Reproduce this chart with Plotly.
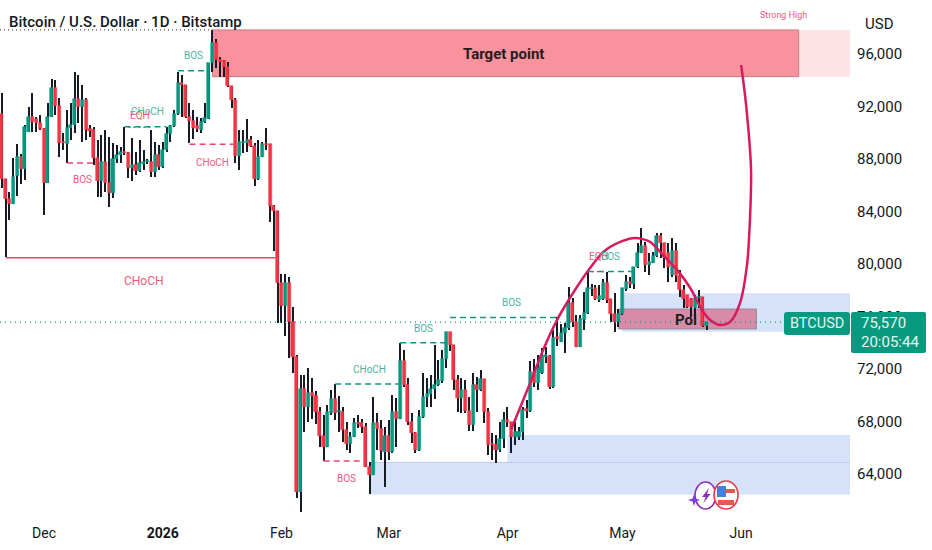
import pandas as pd
import plotly.graph_objects as go

# daily candles
opens = [91400, 86450, 84950, 84570, 86700, 88180, 87260, 90080, 91230, 91020,
         90720, 90310, 86200, 91170, 93380, 92040, 89320, 89140, 90340, 90590,
         92570, 91990, 92500, 90260, 90210, 88050, 86320, 87750, 86150, 85380,
         88000, 88300, 88530, 88480, 87290, 87540, 87110, 87620, 87750, 87750,
         87030, 88300, 87420, 88690, 89880, 90510, 91430, 93820, 93640, 91230,
         90920, 90510, 90210, 90820, 91020, 95290, 96860, 95540, 95470, 94980,
         93560, 92500, 88250, 89190, 89240, 89450, 89020, 86450, 88180, 89120,
         89120, 84440, 84060, 78550, 76800, 78550, 75610, 72940, 62650, 70450,
         69130, 70200, 69940, 68700, 66890, 66080, 68620, 69690, 68750, 68750,
         67350, 66280, 66840, 67910, 67860, 67550, 64560, 63920, 67860, 67400,
         65700, 66890, 65700, 68750, 68190, 72610, 70780, 67990, 67150, 65830,
         68320, 69840, 70090, 70450, 70780, 71110, 72740, 74790, 73830, 71160,
         69820, 70400, 68800, 67730, 70780, 70400, 71240, 68750, 66280, 66210,
         65830, 66640, 68110, 67990, 66790, 66790, 67170, 68930, 68800, 71790,
         70960, 71670, 72940, 72990, 70650, 74410, 74080, 74720, 75100, 77000,
         75600, 73700, 75730, 76240, 78100, 78150, 77260, 77310, 78580, 77310,
         76190, 75600, 76190, 78100, 78650, 78480, 79800, 80810, 81370, 79920,
         80100, 80610, 82130, 81570, 80810, 79160, 81010, 79080, 78020, 77640,
         77330, 76620, 77410, 77460, 75280]
closes = [86450, 84950, 84570, 86650, 88180, 87260, 90410, 91230, 90840, 90720,
          90310, 86200, 91230, 93380, 92040, 89240, 89190, 90340, 90590, 92570,
          91990, 92500, 90210, 90160, 88050, 86320, 87750, 86150, 85380, 88000,
          88300, 88530, 88430, 87290, 87540, 87110, 87670, 87800, 87850, 87030,
          88300, 87420, 88690, 89880, 90510, 91430, 93820, 93640, 91170, 90920,
          90340, 90260, 90820, 91100, 95290, 96860, 95540, 95390, 95040, 93560,
          92500, 88250, 89270, 89320, 89450, 89020, 86450, 88180, 89120, 89070,
          84440, 84060, 78550, 76800, 78550, 75600, 72940, 62650, 70450, 69130,
          70200, 69940, 68700, 66890, 66080, 68700, 69690, 68670, 68800, 67350,
          66280, 66840, 67860, 67810, 67550, 64560, 63920, 67860, 67400, 65780,
          66890, 65700, 68750, 68190, 72610, 70780, 67990, 67150, 65830, 68320,
          69840, 70090, 70450, 70780, 71160, 72740, 74790, 73830, 71160, 69820,
          70400, 68800, 67730, 70780, 70400, 71240, 68750, 66210, 66210, 65830,
          66640, 68110, 67990, 66790, 67220, 67170, 68870, 68800, 71790, 70960,
          72050, 72990, 73060, 70650, 74340, 74260, 74720, 75100, 77000, 75600,
          73700, 75780, 76240, 78150, 78200, 77310, 77560, 78580, 77260, 76190,
          75600, 76190, 78150, 78650, 78480, 79800, 80860, 81370, 79920, 80180,
          80610, 82130, 81570, 80430, 79800, 81010, 79080, 78020, 77330, 76750,
          76700, 77380, 77460, 75280, 75570]
highs = [93000, 86450, 85510, 88050, 89140, 88380, 90590, 91940, 93000, 91170,
         91350, 90340, 92240, 94100, 94020, 92620, 89960, 91730, 92240, 94600,
         94400, 93640, 92620, 90590, 90460, 89450, 89830, 90210, 89700, 89190,
         89070, 88940, 90460, 88560, 89570, 88560, 89450, 88690, 88000, 90210,
         89320, 89070, 89320, 90460, 90590, 91730, 94650, 94400, 93640, 92240,
         91730, 91230, 91100, 92290, 95290, 97830, 97120, 95750, 95540, 95420,
         93560, 92620, 90210, 90210, 91050, 89750, 89190, 89450, 89320, 90340,
         89120, 84490, 84060, 79240, 79240, 79030, 76750, 73070, 71540, 71540,
         72050, 71290, 70350, 69080, 68500, 69260, 70400, 70860, 69940, 69130,
         67990, 67220, 68240, 68500, 68160, 67860, 64940, 69890, 68670, 68110,
         67600, 68110, 70020, 69760, 74010, 73450, 71290, 68620, 67220, 68870,
         71670, 71290, 71540, 73830, 72690, 73450, 74790, 74790, 73830, 71540,
         71290, 71160, 69890, 71670, 71410, 71920, 71240, 69000, 67150, 66970,
         67990, 68750, 69130, 67990, 67990, 67600, 69130, 69640, 72630, 72740,
         73070, 73570, 73700, 73060, 74970, 75990, 75430, 75480, 78270, 77380,
         76110, 76110, 77890, 79410, 78500, 78400, 78400, 78830, 79410, 77310,
         77760, 76540, 78150, 79160, 79000, 79800, 81570, 82720, 81700, 80810,
         80940, 82390, 82340, 81620, 81570, 81960, 81570, 79540, 78400, 77640,
         77380, 77640, 78020, 77510, 75600]
lows = [85760, 80560, 83350, 84570, 85180, 86070, 86400, 90080, 90080, 90080,
        90210, 83730, 86200, 91170, 91350, 88130, 88690, 87670, 89450, 89960,
        90720, 89320, 89450, 89700, 87540, 85130, 85130, 85510, 84370, 85000,
        87670, 87670, 88300, 86530, 86320, 86780, 87000, 87160, 87600, 86650,
        86650, 87160, 87290, 88560, 89320, 90460, 91350, 91230, 91100, 89190,
        89500, 90080, 89960, 90720, 91020, 94650, 94910, 94220, 94270, 93510,
        91860, 87670, 87160, 88430, 88560, 88940, 85940, 86400, 88180, 88690,
        83220, 81010, 75530, 75530, 74510, 72840, 71670, 62170, 61100, 67220,
        67990, 68160, 67810, 66080, 64990, 66080, 68500, 68110, 67220, 66460,
        65830, 65570, 66790, 67480, 67100, 64500, 62470, 63920, 65830, 65060,
        62980, 65060, 65620, 66080, 68190, 70650, 67730, 66340, 65570, 65780,
        68240, 69130, 69130, 69690, 70700, 70910, 72050, 73370, 70400, 68750,
        68620, 68620, 67300, 67300, 68750, 70350, 67860, 65450, 65060, 64860,
        65700, 65950, 67600, 65620, 66210, 66590, 66590, 68240, 68750, 70600,
        70400, 71620, 72430, 70450, 70520, 73750, 74080, 73240, 74970, 75220,
        73700, 73700, 74970, 76190, 77600, 77260, 77130, 77260, 77000, 75600,
        74840, 75220, 76110, 77970, 78150, 78070, 79670, 80810, 79410, 79160,
        80050, 80560, 80430, 79670, 78650, 79030, 78650, 77510, 76620, 76620,
        75990, 75860, 76620, 75170, 75000]

dates = pd.date_range("2025-11-20", periods=len(opens), freq="D")

x_start = "2025-11-19 12:00"
x_end = "2026-06-29 10:00"
y_low = 60880
y_high = 100110

price_ticks = [64000, 68000, 72000, 76000, 80000, 84000, 88000, 92000, 96000]
month_ticks = ["2025-12-01", "2026-01-01", "2026-02-01", "2026-03-01", "2026-04-01", "2026-05-01", "2026-06-01"]
month_names = ["Dec", "<b>2026</b>", "Feb", "Mar", "Apr", "May", "Jun"]

last_price = 75570
swing_high = 97830

UP = "#089981"
DOWN = "#f23645"
WICK = "#171b26"
UP_TEXT = "#4ab59f"
DOWN_TEXT = "#ee5a7c"

# structure lines: start, end, price
green_dash = [("2026-01-05", "2026-01-13", 94730), ("2025-12-22", "2026-01-02", 90460),
              ("2026-02-15", "2026-03-04", 70860), ("2026-03-04", "2026-03-16", 74000),
              ("2026-03-17", "2026-04-14", 75920), ("2026-04-22", "2026-05-04", 79420)]
red_dash = [("2025-12-07", "2025-12-14", 87690), ("2026-01-08", "2026-01-20", 89120),
            ("2026-02-12", "2026-02-23", 64990)]
red_dot = [("2025-12-23", "2025-12-29", 90400), ("2026-04-23", "2026-04-27", 79420)]
red_solid = [("2025-11-21", "2026-01-31", 80480)]

# small labels: text, date, price, colour, size
labels = [("BOS", "2026-01-09", 95850, UP_TEXT, 10), ("CHoCH", "2025-12-28", 91580, UP_TEXT, 10),
          ("EQH", "2025-12-26", 91350, DOWN_TEXT, 10), ("BOS", "2025-12-11", 86400, DOWN_TEXT, 10),
          ("CHoCH", "2026-01-14", 87770, DOWN_TEXT, 10), ("CHoCH", "2025-12-27", 78670, DOWN_TEXT, 12),
          ("BOS", "2026-02-18", 63670, DOWN_TEXT, 10), ("CHoCH", "2026-02-24", 71980, UP_TEXT, 10),
          ("BOS", "2026-03-10", 75120, UP_TEXT, 10), ("BOS", "2026-04-02", 77050, UP_TEXT, 10),
          ("EQH", "2026-04-25", 80560, DOWN_TEXT, 10), ("BOS", "2026-04-28", 80560, UP_TEXT, 10),
          ("Strong High", "2026-06-12", 98970, DOWN_TEXT, 9)]

# the hand drawn projection
curve_dates = ["2026-04-02 00:00", "2026-04-06 22:00", "2026-04-10 07:00", "2026-04-13 22:00", "2026-04-17 07:00",
               "2026-04-21 19:00", "2026-04-26 00:00", "2026-04-30 10:00", "2026-05-04 07:00", "2026-05-08 05:00",
               "2026-05-11 14:00", "2026-05-15 07:00", "2026-05-18 17:00", "2026-05-21 19:00", "2026-05-23 22:00",
               "2026-05-26 12:00", "2026-05-29 02:00", "2026-05-31 17:00", "2026-06-02 14:00", "2026-06-03 07:00",
               "2026-06-03 14:00", "2026-06-02 07:00", "2026-06-01 00:00"]
curve_prices = [67430, 70930, 73450, 75730, 77410, 79390, 80910, 81680, 81980, 81680, 80690, 79550,
                78170, 76500, 75730, 75350, 75580, 77030, 80080, 83360, 87160, 92110, 95160]

PLOT_W = 850
PLOT_H = 515


def px(x):
    return x / PLOT_W


def py(y):
    return (PLOT_H - y) / PLOT_H


def rounded_rect(x0, y0, x1, y1, r, fill):
    # path in screen pixels, for the price tags
    path = (f"M {px(x0 + r)} {py(y0)} L {px(x1 - r)} {py(y0)} Q {px(x1)} {py(y0)} {px(x1)} {py(y0 + r)} "
            f"L {px(x1)} {py(y1 - r)} Q {px(x1)} {py(y1)} {px(x1 - r)} {py(y1)} "
            f"L {px(x0 + r)} {py(y1)} Q {px(x0)} {py(y1)} {px(x0)} {py(y1 - r)} "
            f"L {px(x0)} {py(y0 + r)} Q {px(x0)} {py(y0)} {px(x0 + r)} {py(y0)} Z")
    return dict(type="path", path=path, xref="paper", yref="paper", fillcolor=fill, line=dict(width=0), layer="above")


def polygon(points, fill):
    # small icon pieces, screen pixels
    path = "M " + " L ".join(f"{px(x)} {py(y)}" for x, y in points) + " Z"
    return dict(type="path", path=path, xref="paper", yref="paper", fillcolor=fill, line=dict(width=0), layer="above")


fig = go.Figure()

fig.add_trace(go.Bar(x=dates, y=[h - l for h, l in zip(highs, lows)], base=lows, width=86400000 * 0.32,
                     marker=dict(color=WICK, line=dict(width=0)), hoverinfo="skip", showlegend=False))

body_bottom = [min(o, c) for o, c in zip(opens, closes)]
body_size = [abs(o - c) for o, c in zip(opens, closes)]
body_color = [UP if c >= o else DOWN for o, c in zip(opens, closes)]
fig.add_trace(go.Bar(x=dates, y=body_size, base=body_bottom, width=86400000 * 0.8,
                     marker=dict(color=body_color, line=dict(color=body_color, width=0.6)),
                     hoverinfo="skip", showlegend=False))

fig.add_trace(go.Scatter(x=curve_dates, y=curve_prices, mode="lines",
                         line=dict(color="#d81b60", width=2.5, shape="spline", smoothing=0.8),
                         hoverinfo="skip", showlegend=False))

shapes = []


def zone(x0, x1, p0, p1, fill, border=None):
    shapes.append(dict(type="rect", x0=x0, x1=x1, y0=p0, y1=p1, xref="x", yref="y", fillcolor=fill, layer="below",
                       line=dict(color=border, width=1) if border else dict(width=0)))


# supply / demand zones
zone("2026-06-16", x_end, 94270, 97830, "#fde3e5")
zone("2026-01-14", "2026-06-16", 94270, 97830, "#f8939d", "#c97a84")
zone("2026-05-01", x_end, 74840, 77770, "#d5e2fa")
zone("2026-02-24", x_end, 62440, 64890, "#d5e2fa")
zone("2026-04-01", x_end, 64890, 66970, "#d5e2fa")
zone("2026-04-30", "2026-06-05", 75050, 76570, "#d78ba7", "#9a8a9c")
shapes.append(dict(type="line", x0="2026-02-24", x1=x_end, y0=64890, y1=64890, xref="x", yref="y",
                   line=dict(color="#bccbe6", width=1), layer="below"))


def level_lines(rows, color, dash, width):
    for start, end, price in rows:
        shapes.append(dict(type="line", x0=start, x1=end, y0=price, y1=price, xref="x", yref="y",
                           line=dict(color=color, dash=dash, width=width), layer="above"))


level_lines(green_dash, UP, "6px,4px", 1.5)
level_lines(red_dash, "#e8476a", "6px,4px", 1.5)
level_lines(red_dot, "#e8476a", "2px,3px", 1.2)
level_lines(red_solid, "#e8476a", "solid", 1.4)
level_lines([(x_start, x_end, last_price)], UP, "1px,4px", 1.2)
level_lines([(x_start, "2026-01-14", swing_high)], "#555555", "1px,3px", 1.2)

# price tags on the right
shapes.append(rounded_rect(784, 312, 850, 335, 3, UP))
shapes.append(rounded_rect(851, 312, 926, 353, 2, UP))

# small logo bottom right
shapes.append(dict(type="circle", xref="paper", yref="paper", x0=px(695), x1=px(716), y0=py(509), y1=py(482),
                   line=dict(color="#8e2fb8", width=1.6), fillcolor="white", layer="above"))
shapes.append(polygon([(694, 494), (695.5, 498.5), (700, 500), (695.5, 501.5), (694, 506), (692.5, 501.5),
                       (688, 500), (692.5, 498.5)], "#7a3fe0"))
shapes.append(polygon([(709, 488), (702, 497), (705.5, 497), (703.5, 503), (710.5, 494), (707, 494)], "#8e2fb8"))
shapes.append(dict(type="circle", xref="paper", yref="paper", x0=px(714), x1=px(738), y0=py(509), y1=py(481),
                   line=dict(color="#e5394a", width=1.6), fillcolor="white", layer="above"))
shapes.append(dict(type="rect", xref="paper", yref="paper", x0=px(717), x1=px(726), y0=py(497), y1=py(486),
                   line=dict(width=0), fillcolor="#4a7fd6", layer="above"))
shapes.append(dict(type="rect", xref="paper", yref="paper", x0=px(726), x1=px(735), y0=py(493), y1=py(489),
                   line=dict(width=0), fillcolor="#e5594f", layer="above"))
shapes.append(dict(type="rect", xref="paper", yref="paper", x0=px(718), x1=px(734), y0=py(505), y1=py(500),
                   line=dict(width=0), fillcolor="#e5594f", layer="above"))

annotations = []
for text, date, price, color, size in labels:
    annotations.append(dict(x=date, y=price, xref="x", yref="y", text=text, showarrow=False,
                            font=dict(family="Roboto", size=size, color=color)))

annotations.append(dict(x="2026-03-31", y=96000, xref="x", yref="y", text="<b>Target point</b>", showarrow=False,
                        font=dict(family="Roboto", size=15, color="#2a1a1e")))
annotations.append(dict(x="2026-05-17 12:00", y=75730, xref="x", yref="y", text="<b>Poi</b>", showarrow=False,
                        font=dict(family="Roboto", size=15, color="#1c1c28")))


def screen_text(x, y, text, size, color, anchor="left", weight=None):
    annotations.append(dict(x=px(x), y=py(y), xref="paper", yref="paper", text=text, showarrow=False,
                            xanchor=anchor, yanchor="middle",
                            font=dict(family="Roboto", size=size, color=color, weight=weight)))


screen_text(7, 22, "Bitcoin / U.S. Dollar · 1D · Bitstamp", 15, "#131722", weight=500)
screen_text(863, 24, "USD", 15, "#131722")
screen_text(817, 323, "BTCUSD", 14.5, "#e3f6f0", "center")
screen_text(859, 323, "75,570", 15, "#e3f6f0")
screen_text(859, 342, "20:05:44", 15, "#e3f6f0")

fig.update_layout(
    width=932, height=550, autosize=False,
    margin=dict(l=0, r=82, t=0, b=35),
    paper_bgcolor="white", plot_bgcolor="white",
    barmode="overlay", bargap=0, showlegend=False,
    shapes=shapes, annotations=annotations,
    xaxis=dict(type="date", range=[x_start, x_end], tickmode="array", tickvals=month_ticks, ticktext=month_names,
               showgrid=False, zeroline=False, showline=False, ticks="", ticklabelstandoff=8,
               tickfont=dict(family="Roboto", size=14, color="#131722")),
    yaxis=dict(range=[y_low, y_high], side="right", tickmode="array", tickvals=price_ticks, tickformat=",d",
               showgrid=False, zeroline=False, showline=False, ticks="", ticklabelstandoff=6,
               tickfont=dict(family="Roboto", size=15, color="#131722")),
)

fig.write_html("out.html", config=dict(displayModeBar=False), post_script="document.body.style.margin='0';")
